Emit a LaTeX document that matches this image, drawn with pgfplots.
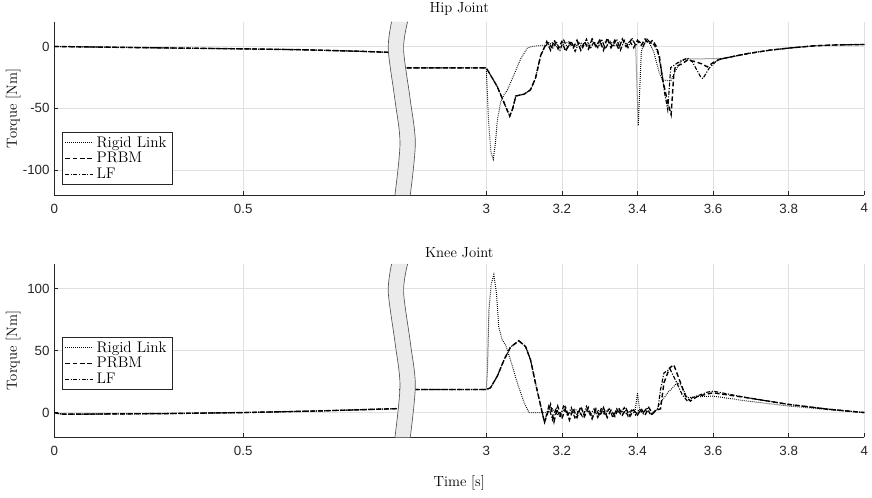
\documentclass[border=0pt]{standalone}
\usepackage{pgfplots}
\pgfplotsset{compat=1.18}
\usepackage{fontspec}
\newfontfamily\tickfont{Liberation Sans}
\definecolor{axisgray}{HTML}{262626}
\definecolor{gridgray}{HTML}{E0E0E0}
\definecolor{bandfill}{HTML}{EBEBEB}
\definecolor{bandline}{HTML}{555555}
\pgfplotsset{
  myax/.style={
    width=607.5pt, height=130pt, scale only axis,
    xmin=0, xmax=4,
    xtick={0,0.5,3,3.2,3.4,3.6,3.8,4},
    xticklabels={0,0.5,3,3.2,3.4,3.6,3.8,4},
    axis lines=left, axis line style={-, draw=axisgray, line width=0.5pt},
    tick align=inside, major tick length=3pt,
    tick style={axisgray, line width=0.5pt},
    grid=major, major grid style={gridgray, line width=0.5pt},
    unbounded coords=jump,
    /pgf/number format/assume math mode=true,
    tick label style={font=\tickfont\fontsize{10}{11}\selectfont, text=axisgray},
    xticklabel style={yshift=-3pt},
    title style={font=\fontsize{11}{13}\selectfont, yshift=-5pt},
    label style={font=\fontsize{11}{13}\selectfont},
    ylabel style={at={(axis description cs:-0.0506,0.5)}, anchor=center},
    legend cell align=left,
    legend image code/.code={\draw[##1] (0pt,0pt) -- (21pt,0pt);},
    legend style={anchor=south west, draw=axisgray, font=\fontsize{11.5}{12}\selectfont,
      inner xsep=2pt, inner ysep=1pt, row sep=-1.5pt},
  },
  rigid/.style={black, line width=0.75pt, dash pattern=on 0.6pt off 0.9pt},
  prbm/.style={black, line width=1.05pt, dash pattern=on 3.5pt off 2pt},
  lf/.style={black, line width=0.85pt, dash pattern=on 3pt off 1.2pt on 0.8pt off 1.2pt},
}
\begin{document}
\begin{tikzpicture}
\useasboundingbox (-40.7pt,-45.5pt) rectangle (613.3pt,328pt);
% ---------------- Hip Joint ----------------
\begin{axis}[myax, name=hip, at={(0pt,181.7pt)}, anchor=south west,
  x coord trafo/.code={\pgfmathparse{#1>2?#1-1.857:#1}},
  ymin=-120, ymax=20, ytick={-100,-50,0},
  title={Hip Joint}, ylabel={Torque [Nm]},
  legend style={at={(rel axis cs:0.009,0.058)}}]
\addplot[rigid] coordinates {
(0,0) (0.25,-1) (0.5,-1.9) (0.65,-2.6) (0.8,-3.8) (0.91,-5) (0.92,nan)
(2.77,-17.3) (3.0,-17.3) (3.006,-60) (3.012,-85) (3.0185,-91) (3.024,-78) (3.03,-58)
(3.038,-45) (3.047,-39) (3.056,-35) (3.073,-23) (3.091,-10) (3.108,-1.5) (3.12,0)
(3.135,0.5) (3.15,1) (3.16,1) (3.175,3) (3.19,-1) (3.205,2) (3.22,4) (3.235,0)
(3.25,3) (3.265,1) (3.28,4) (3.295,0) (3.31,3) (3.325,5) (3.34,1) (3.355,4) (3.37,2)
(3.385,5) (3.395,2) (3.402,-64) (3.41,-5) (3.417,3.5) (3.43,4) (3.443,-4.5)
(3.457,-20.5) (3.466,-27) (3.488,-28) (3.5,-20) (3.514,-12) (3.532,-10) (3.56,-10)
(3.6,-9.8) (3.63,-9.5) (3.69,-5.8) (3.75,-3) (3.8,-1.3) (3.87,0.6) (3.93,1.3) (4.0,1.6)
};
\addlegendentry{Rigid Link}
\addplot[prbm] coordinates {
(0,0) (0.25,-1) (0.5,-1.9) (0.65,-2.6) (0.8,-3.8) (0.91,-5) (0.92,nan)
(2.77,-17.3) (3.0,-17.3) (3.029,-32.4) (3.062,-56.3) (3.07,-50) (3.078,-40)
(3.1,-38.5) (3.117,-35) (3.13,-25.8) (3.144,-7.2) (3.152,-1.9) (3.16,4) (3.17,-3)
(3.18,5) (3.19,-2) (3.20,4) (3.21,-4) (3.22,3) (3.23,-1) (3.24,5) (3.25,-3) (3.26,4)
(3.27,-2) (3.28,6) (3.29,0) (3.30,5) (3.31,-3) (3.32,7) (3.33,-1) (3.34,5) (3.35,-2)
(3.36,6) (3.37,0) (3.38,4) (3.39,-1) (3.40,5) (3.41,1) (3.42,6) (3.43,2) (3.44,5)
(3.45,0) (3.458,-8) (3.466,-25.8) (3.479,-44) (3.489,-55) (3.496,-23) (3.5,-16.5)
(3.519,-13.8) (3.532,-11) (3.55,-12) (3.57,-14) (3.585,-16.5) (3.6,-13) (3.62,-10)
(3.63,-9.5) (3.69,-5.8) (3.75,-3) (3.8,-1.3) (3.87,0.6) (3.93,1.3) (4.0,1.6)
};
\addlegendentry{PRBM}
\addplot[lf] coordinates {
(0,0) (0.25,-1) (0.5,-1.9) (0.65,-2.6) (0.8,-3.8) (0.91,-5) (0.92,nan)
(2.77,-17.3) (3.0,-17.3) (3.029,-32.4) (3.062,-56.3) (3.07,-50) (3.078,-40)
(3.1,-38.5) (3.117,-35) (3.13,-25.8) (3.144,-7.2) (3.155,0) (3.165,3) (3.175,-2)
(3.185,4) (3.195,-3) (3.205,5) (3.215,-1) (3.225,4) (3.235,-4) (3.245,3) (3.255,-1)
(3.265,6) (3.275,-2) (3.285,4) (3.295,-1) (3.305,6) (3.315,-2) (3.325,4) (3.335,0)
(3.345,6) (3.355,-3) (3.365,5) (3.375,-1) (3.385,7) (3.395,1) (3.405,4) (3.415,0)
(3.425,6) (3.435,3) (3.445,1) (3.455,-6) (3.465,-22) (3.472,-38) (3.48,-51)
(3.488,-17) (3.512,-12) (3.532,-9.3) (3.545,-12.4) (3.567,-24.5) (3.573,-26)
(3.589,-17.8) (3.611,-11) (3.63,-9.5) (3.69,-5.8) (3.75,-3) (3.8,-1.3) (3.87,0.6)
(3.93,1.3) (4.0,1.6)
};
\addlegendentry{LF}
\end{axis}
% ---------------- Knee Joint ----------------
\begin{axis}[myax, name=knee, at={(0pt,0pt)}, anchor=south west,
  x coord trafo/.code={\pgfmathparse{#1>2?#1-1.857:#1}},
  ymin=-20, ymax=120, ytick={0,50,100},
  title={Knee Joint}, ylabel={Torque [Nm]}, xlabel={Time [s]},
  xlabel style={at={(axis description cs:0.5,-0.265)}, anchor=center},
  legend style={at={(rel axis cs:0.009,0.273)}}]
\addplot[rigid] coordinates {
(0,0) (0.012,-0.8) (0.024,-1.3) (0.1,-1.2) (0.3,-0.8) (0.5,0) (0.7,1.3) (0.91,3.2) (0.92,nan)
(2.77,18.6) (3.0,18.6) (3.003,34.6) (3.007,82.6) (3.013,104) (3.02,111.4) (3.027,96)
(3.033,69.3) (3.042,58.6) (3.051,54.6) (3.064,42.6) (3.082,24) (3.1,8) (3.113,0)
(3.16,0) (3.175,3) (3.19,-2) (3.205,2) (3.22,-1) (3.235,3) (3.25,-2) (3.265,2)
(3.28,-3) (3.295,2) (3.31,-1) (3.325,3) (3.34,-2) (3.355,2) (3.37,-1) (3.385,2)
(3.393,0) (3.4,16) (3.407,0) (3.42,2) (3.435,-1) (3.45,2) (3.461,8) (3.48,16)
(3.505,24) (3.515,22) (3.532,12) (3.558,12.8) (3.6,13.3) (3.69,9.3) (3.8,5.3)
(3.9,2.5) (4.0,0)
};
\addlegendentry{Rigid Link}
\addplot[prbm] coordinates {
(0,0) (0.012,-0.8) (0.024,-1.3) (0.1,-1.2) (0.3,-0.8) (0.5,0) (0.7,1.3) (0.91,3.2) (0.92,nan)
(2.77,18.6) (3.0,18.6) (3.011,20) (3.029,29.3) (3.047,42.6) (3.064,52.8) (3.086,58)
(3.104,53.3) (3.117,42.6) (3.13,24) (3.144,5.3) (3.154,-8) (3.17,6.6) (3.179,-7.5)
(3.189,5) (3.2,-5) (3.21,4) (3.22,-6) (3.23,3) (3.24,-4) (3.25,5) (3.26,-3) (3.27,4)
(3.28,-5) (3.29,3) (3.30,-3) (3.31,4) (3.32,-4) (3.33,2) (3.34,-3) (3.35,4) (3.36,-2)
(3.37,3) (3.38,-3) (3.39,2) (3.40,-2) (3.41,3) (3.42,-2) (3.43,4) (3.44,-1) (3.45,2)
(3.461,3) (3.47,24) (3.485,36) (3.496,38.6) (3.514,24) (3.527,13.3) (3.54,9.3)
(3.558,13) (3.585,15) (3.6,16) (3.69,12) (3.8,6.6) (3.9,2.8) (4.0,0)
};
\addlegendentry{PRBM}
\addplot[lf] coordinates {
(0,0) (0.012,-0.8) (0.024,-1.3) (0.1,-1.2) (0.3,-0.8) (0.5,0) (0.7,1.3) (0.91,3.2) (0.92,nan)
(2.77,18.6) (3.0,18.6) (3.011,20) (3.029,29.3) (3.047,42.6) (3.064,52.8) (3.086,58)
(3.104,53.3) (3.117,42.6) (3.13,24) (3.144,5.3) (3.154,-8) (3.165,5) (3.175,-6)
(3.185,4) (3.195,-4) (3.205,6) (3.215,-3) (3.225,4) (3.235,-5) (3.245,2) (3.255,-4)
(3.265,5) (3.275,-2) (3.285,3) (3.295,-4) (3.305,4) (3.315,-2) (3.325,3) (3.335,-4)
(3.345,3) (3.355,-1) (3.365,4) (3.375,-3) (3.385,2) (3.395,-2) (3.405,3) (3.415,-1)
(3.425,4) (3.435,-2) (3.445,1) (3.454,3) (3.461,18.6) (3.47,32) (3.486,35.2)
(3.5,26.6) (3.518,14.6) (3.532,9.3) (3.545,12) (3.585,16.5) (3.6,17.3) (3.69,12)
(3.8,6.6) (3.911,2.6) (4.0,0)
};
\addlegendentry{LF}
\end{axis}
% ---------------- axis break bands ----------------
\foreach \ax in {hip,knee}{
  \begin{scope}[shift={(\ax.south west)}, x=1pt, y=1pt]
    \fill[bandfill] plot[smooth] coordinates {(255.5,0) (259.3,39) (255.5,71.5) (250.5,109.2) (253,130)}
      -- plot[smooth] coordinates {(265,130) (262,109.2) (267,71.5) (270.8,39) (267,0)} -- cycle;
    \draw[bandline, line width=0.5pt] plot[smooth] coordinates {(255.5,0) (259.3,39) (255.5,71.5) (250.5,109.2) (253,130)};
    \draw[bandline, line width=0.5pt] plot[smooth] coordinates {(267,0) (270.8,39) (267,71.5) (262,109.2) (265,130)};
  \end{scope}
}
\end{tikzpicture}
\end{document}
